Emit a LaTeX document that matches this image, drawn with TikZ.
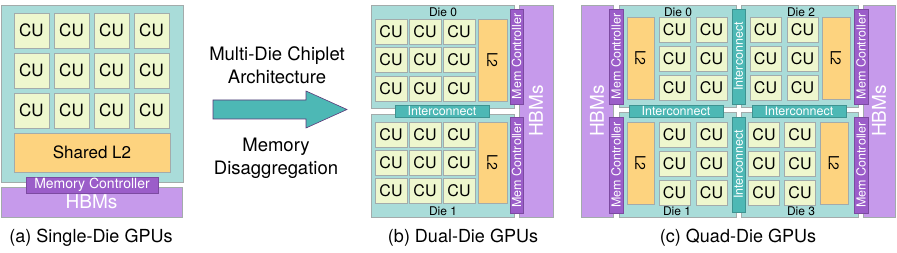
\documentclass[tikz,border=0pt]{standalone}
\usepackage{fontspec}
\setmainfont{TeX Gyre Heros}
\definecolor{dieteal}{HTML}{A9DCD9}
\definecolor{cufill}{HTML}{EEF7CE}
\definecolor{ltwo}{HTML}{FDD37F}
\definecolor{memctl}{HTML}{9B5DC9}
\definecolor{hbmfill}{HTML}{C69AEB}
\definecolor{icfill}{HTML}{4DB8B5}
\definecolor{edgegrey}{HTML}{A3ABAB}
\newcommand{\fsz}[1]{\fontsize{#1}{#1}\selectfont}
\begin{document}
\begin{tikzpicture} [x = 1pt, y = -1pt,
	blk/.style = {draw = edgegrey, line width = 0.8pt, inner sep = 0pt, outer sep = 0pt},
	sz/.style 2 args = {minimum width = #1, minimum height = #2},
	vsz/.style 2 args = {minimum width = #2, minimum height = #1},
	die/.style = {blk, fill = dieteal},
	cu/.style = {blk, fill = cufill},
	ltwo/.style = {blk, fill = ltwo},
	memc/.style = {blk, draw = memctl!80!black, fill = memctl, text = white, font = \fsz{12.5}},
	hbm/.style = {blk, fill = hbmfill, text = white, font = \fsz{19}},
	ic/.style = {blk, draw = icfill!80!black, fill = icfill, text = white, font = \fsz{12.5}},
	dielabel/.style = {inner sep = 0pt, font = \fsz{12}},
	caption/.style = {inner sep = 0pt, font = \fsz{18}}]
	\useasboundingbox (0,0) rectangle (897,253);

	% (a) single die
	\node [die, sz = {182}{177}] (adie) at (92,93.5) {};
	\node [hbm, sz = {181}{30}] (ahbm) at (91.5,202) {HBMs};
	\foreach \i in {0,...,3}
		\foreach \j in {0,...,2}
			\node [cu, sz = {35}{35}, font = \fsz{17}] (acu\i\j) at ({31.5+40*\i},{30.5+40*\j}) {CU};
	\node [ltwo, sz = {156}{39}, font = \fsz{17}] (al2) at (92,152.5) {Shared L2};
	\node [memc, sz = {132}{16}, font = \fsz{14}] (amc) at (92,185) {Memory Controller};
	\node [caption] (acap) at (91,238) {(a) Single-Die GPUs};

	% arrow
	\draw [fill = icfill, draw = memctl!60!black, line width = 0.6pt] (213,100) -- (306,100) -- (306,91) -- (347,109.5) -- (306,128) -- (306,119) -- (213,119) -- cycle;
	\node [align = center, inner sep = 0pt, font = \fontsize{18.5}{23}\selectfont] (arrtop) at (277,65.5) {Multi-Die Chiplet\\Architecture};
	\node [align = center, inner sep = 0pt, font = \fontsize{18.5}{23}\selectfont] (arrbot) at (276,158) {Memory\\Disaggregation};

	% (b) dual die
	\node [die, sz = {143}{103}] (bdie0) at (442.5,56.5) {};
	\node [die, sz = {143}{103}] (bdie1) at (442.5,165.5) {};
	\node [hbm, vsz = {34}{212}, rotate = 90] (bhbm) at (536,111) {HBMs};
	\foreach \i in {0,...,2}
		\foreach \j in {0,...,2} {
			\node [cu, sz = {32}{25}, font = \fsz{16}] (bcua\i\j) at ({391+34*\i},{31.5+28.5*\j}) {CU};
			\node [cu, sz = {32}{25}, font = \fsz{16}] (bcub\i\j) at ({391+34*\i},{134.5+28*\j}) {CU};
		}
	\node [ltwo, vsz = {29}{82}, rotate = -90, font = \fsz{14}] (bl2a) at (492.5,60) {L2};
	\node [ltwo, vsz = {29}{81}, rotate = -90, font = \fsz{14}] (bl2b) at (492.5,162.5) {L2};
	\node [memc, vsz = {13}{95}, rotate = 90] (bmca) at (516.5,56.5) {Mem Controller};
	\node [memc, vsz = {13}{96}, rotate = 90] (bmcb) at (516.5,165) {Mem Controller};
	\node [ic, sz = {94}{12}] (bic) at (442,111) {Interconnect};
	\node [dielabel] (bd0) at (443,12) {Die 0};
	\node [dielabel] (bd1) at (443,211) {Die 1};
	\node [caption] (bcap) at (463,238) {(b) Dual-Die GPUs};

	% (c) quad die
	\node [die, sz = {117}{102}] (cdie0) at (677.5,56) {};
	\node [die, sz = {117}{105}] (cdie1) at (677.5,164.5) {};
	\node [die, sz = {117}{102}] (cdie2) at (799.5,56) {};
	\node [die, sz = {117}{105}] (cdie3) at (799.5,164.5) {};
	\node [hbm, vsz = {32}{212}, rotate = 90] (chbml) at (597,111) {HBMs};
	\node [hbm, vsz = {32}{212}, rotate = 90] (chbmr) at (879,111) {HBMs};
	\foreach \j in {0,...,2} {
		\node [cu, sz = {31}{25}, font = \fsz{16}] (ccua0\j) at (674.5,{29.5+29*\j}) {CU};
		\node [cu, sz = {31}{25}, font = \fsz{16}] (ccua1\j) at (711.5,{29.5+29*\j}) {CU};
		\node [cu, sz = {31}{25}, font = \fsz{16}] (ccub0\j) at (674.5,{134.5+29*\j}) {CU};
		\node [cu, sz = {31}{25}, font = \fsz{16}] (ccub1\j) at (711.5,{134.5+29*\j}) {CU};
		\node [cu, sz = {31}{25}, font = \fsz{16}] (ccuc0\j) at (765.5,{29.5+29*\j}) {CU};
		\node [cu, sz = {31}{25}, font = \fsz{16}] (ccuc1\j) at (802.5,{29.5+29*\j}) {CU};
		\node [cu, sz = {31}{25}, font = \fsz{16}] (ccud0\j) at (764,{134.5+29*\j}) {CU};
		\node [cu, sz = {31}{25}, font = \fsz{16}] (ccud1\j) at (800,{134.5+29*\j}) {CU};
	}
	\node [ltwo, vsz = {27}{82}, rotate = -90, font = \fsz{14}] (cl2a) at (640.5,58) {L2};
	\node [ltwo, vsz = {27}{82}, rotate = -90, font = \fsz{14}] (cl2b) at (640.5,163) {L2};
	\node [ltwo, vsz = {28}{82}, rotate = -90, font = \fsz{14}] (cl2c) at (836,58) {L2};
	\node [ltwo, vsz = {28}{82}, rotate = -90, font = \fsz{14}] (cl2d) at (834,163) {L2};
	\node [memc, vsz = {14}{95}, rotate = 90] (cmca) at (616,56.5) {Mem Controller};
	\node [memc, vsz = {14}{96}, rotate = 90] (cmcb) at (616,165) {Mem Controller};
	\node [memc, vsz = {14}{95}, rotate = 90] (cmcc) at (861,56.5) {Mem Controller};
	\node [memc, vsz = {14}{96}, rotate = 90] (cmcd) at (861,165) {Mem Controller};
	\node [ic, sz = {94}{12}] (cicl) at (676,111) {Interconnect};
	\node [ic, sz = {94}{12}] (cicr) at (799,111) {Interconnect};
	\node [ic, vsz = {13}{95}, rotate = 90] (cict) at (738.5,56.5) {Interconnect};
	\node [ic, vsz = {13}{95}, rotate = 90] (cicb) at (738.5,164.5) {Interconnect};
	\node [dielabel] (cd0) at (678,12) {Die 0};
	\node [dielabel] (cd2) at (801,12) {Die 2};
	\node [dielabel] (cd1) at (677,211) {Die 1};
	\node [dielabel] (cd3) at (801,211) {Die 3};
	\node [caption] (ccap) at (738,238) {(c) Quad-Die GPUs};
\end{tikzpicture}
\end{document}
